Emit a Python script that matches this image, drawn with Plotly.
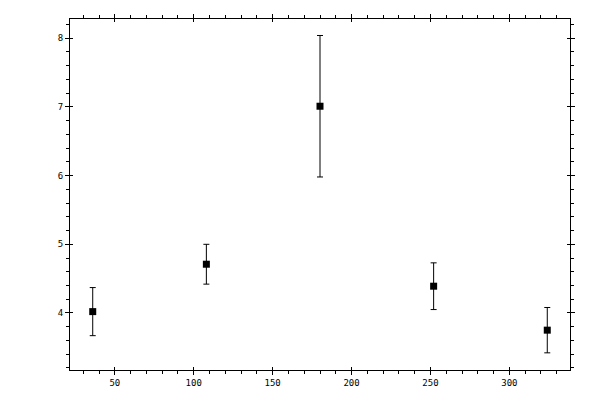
import plotly.graph_objects as go

# values
x_vals = [36, 108, 180, 252, 324]
y_vals = [4.02, 4.71, 7.01, 4.39, 3.75]
y_err = [0.35, 0.29, 1.03, 0.34, 0.33]

x_range = [21.6, 338.4]
y_range = [3.17, 8.28]

fig = go.Figure()

fig.add_trace(go.Scatter(
    x=x_vals,
    y=y_vals,
    mode="markers",
    marker=dict(symbol="square", size=7, color="black"),
    error_y=dict(type="data", array=y_err, color="black", thickness=1, width=3),
    showlegend=False,
    hoverinfo="skip",
))

# invisible trace so the overlay axes (inner half of the major ticks) get drawn
fig.add_trace(go.Scatter(
    x=x_range, y=y_range, xaxis="x2", yaxis="y2",
    mode="markers", marker=dict(opacity=0), showlegend=False, hoverinfo="skip",
))

axis_font = dict(family="DejaVu Sans Mono", size=9, color="black")

# page body has an 8px margin, so the plot area is shifted back by that much
fig.update_layout(
    template="none",
    width=600,
    height=400,
    margin=dict(l=62, r=38, t=11, b=38),
    paper_bgcolor="white",
    plot_bgcolor="white",
    xaxis=dict(
        range=x_range, dtick=50, tick0=0, automargin=False,
        showgrid=False, zeroline=False,
        showline=True, linecolor="black", linewidth=1, mirror="ticks",
        ticks="outside", ticklen=4, tickwidth=1, tickcolor="black",
        minor=dict(dtick=10, tick0=0, ticks="outside", ticklen=3, tickwidth=1, tickcolor="black"),
        tickfont=axis_font,
    ),
    yaxis=dict(
        range=y_range, dtick=1, tick0=0, automargin=False,
        showgrid=False, zeroline=False,
        showline=True, linecolor="black", linewidth=1, mirror="ticks",
        ticks="outside", ticklen=4, tickwidth=1, tickcolor="black",
        minor=dict(dtick=0.2, tick0=0, ticks="outside", ticklen=3, tickwidth=1, tickcolor="black"),
        tickfont=axis_font,
    ),
    xaxis2=dict(
        range=x_range, dtick=50, tick0=0, overlaying="x", automargin=False,
        showgrid=False, zeroline=False, showline=False, showticklabels=False,
        mirror="ticks", ticks="inside", ticklen=3, tickwidth=1, tickcolor="black",
    ),
    yaxis2=dict(
        range=y_range, dtick=1, tick0=0, overlaying="y", automargin=False,
        showgrid=False, zeroline=False, showline=False, showticklabels=False,
        mirror="ticks", ticks="inside", ticklen=3, tickwidth=1, tickcolor="black",
    ),
)

fig.write_html("out.html")
